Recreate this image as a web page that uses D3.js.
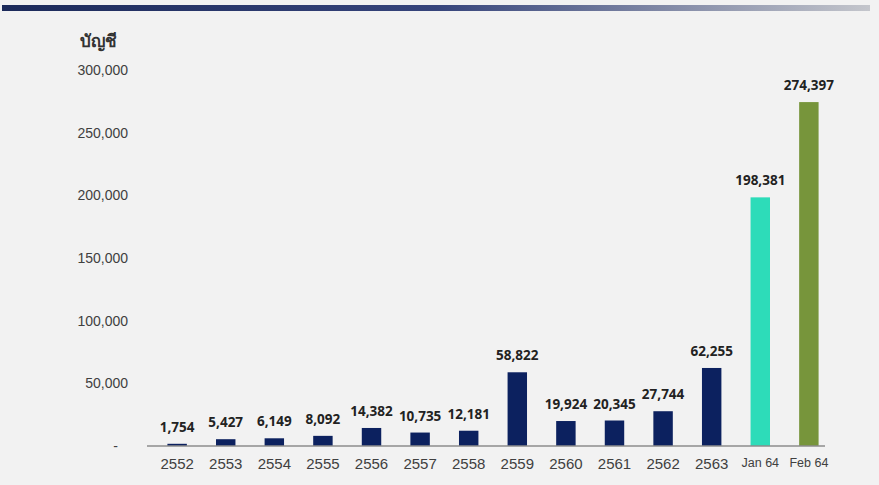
<!DOCTYPE html>
<html>
<head>
<meta charset="utf-8">
<script src="https://cdn.jsdelivr.net/npm/d3@7"></script>
<style>
  body { margin: 0; background: #f2f2f2; }
  svg { display: block; font-family: "Open Sans", "Noto Sans", "DejaVu Sans", sans-serif; }
</style>
</head>
<body>
<div id="chart"></div>
<script>
const categories = ["2552", "2553", "2554", "2555", "2556", "2557", "2558", "2559", "2560", "2561", "2562", "2563", "Jan 64", "Feb 64"];
const values = [1754, 5427, 6149, 8092, 14382, 10735, 12181, 58822, 19924, 20345, 27744, 62255, 198381, 274397];
const yTicks = [0, 50000, 100000, 150000, 200000, 250000, 300000];
const barColors = ["#0c215f", "#0c215f", "#0c215f", "#0c215f", "#0c215f", "#0c215f", "#0c215f", "#0c215f", "#0c215f", "#0c215f", "#0c215f", "#0c215f", "#2ddcb9", "#77953b"];

const W = 879, H = 485;
const margin = { top: 70, right: 40, bottom: 39, left: 147 };
const width = W - margin.left - margin.right;
const height = H - margin.top - margin.bottom;
const axisLen = 678;

const svg = d3.select('#chart')
    .append('svg')
    .attr('width', W)
    .attr('height', H);

// gradient strip at top
const grad = svg.append('defs').append('linearGradient')
    .attr('id', 'topbar');
grad.append('stop').attr('offset', '0%').attr('stop-color', '#1c2a5a');
grad.append('stop').attr('offset', '50%').attr('stop-color', '#36447b');
grad.append('stop').attr('offset', '100%').attr('stop-color', '#c4c6cc');
svg.append('rect')
    .attr('x', 2).attr('y', 5)
    .attr('width', 868).attr('height', 6)
    .attr('fill', 'url(#topbar)');

const g = svg.append('g')
    .attr('transform', `translate(${margin.left},${margin.top})`);

const x = d3.scaleBand()
    .domain(categories)
    .range([0, width])
    .paddingInner(0.6)
    .paddingOuter(0.42);

const y = d3.scaleLinear()
    .domain([0, 300000])
    .range([height, 0]);

// y axis labels
const yAxis = d3.axisLeft(y)
    .tickValues(yTicks)
    .tickSize(0)
    .tickPadding(19)
    .tickFormat(d => d === 0 ? '-' : d3.format(',')(d));

g.append('g')
    .call(yAxis)
    .call(s => s.select('.domain').remove())
    .selectAll('text')
    .style('font-size', '14px')
    .attr('fill', '#404040');

g.selectAll('.tick text')
    .filter(d => d === 0)
    .attr('dx', -10);

// bars
g.append('g')
    .selectAll('rect')
    .data(values)
    .join('rect')
    .attr('x', (d, i) => x(categories[i]))
    .attr('y', d => y(d))
    .attr('width', x.bandwidth())
    .attr('height', d => height - y(d))
    .attr('fill', (d, i) => barColors[i]);

// baseline
g.append('line')
    .attr('x1', 0).attr('x2', axisLen)
    .attr('y1', height).attr('y2', height)
    .attr('stroke', '#8c8c8c')
    .attr('stroke-width', 1.5);

// x axis labels
const xAxis = d3.axisBottom(x).tickSize(0).tickPadding(12);
g.append('g')
    .attr('transform', `translate(0,${height})`)
    .call(xAxis)
    .call(s => s.select('.domain').remove())
    .selectAll('text')
    .style('font-size', d => d.length > 4 ? '12.5px' : '15px')
    .attr('fill', '#404040');

// value labels
g.append('g')
    .selectAll('text')
    .data(values)
    .join('text')
    .attr('x', (d, i) => x(categories[i]) + x.bandwidth() / 2)
    .attr('y', d => y(d) - 12)
    .attr('text-anchor', 'middle')
    .style('font-size', '13.5px')
    .style('font-weight', 'bold')
    .attr('fill', '#222')
    .text(d => d3.format(',')(d));

// axis title
svg.append('text')
    .attr('x', 80)
    .attr('y', 47)
    .style('font-size', '17px')
    .style('font-weight', 'bold')
    .attr('fill', '#333')
    .text('บัญชี');
</script>
</body>
</html>
